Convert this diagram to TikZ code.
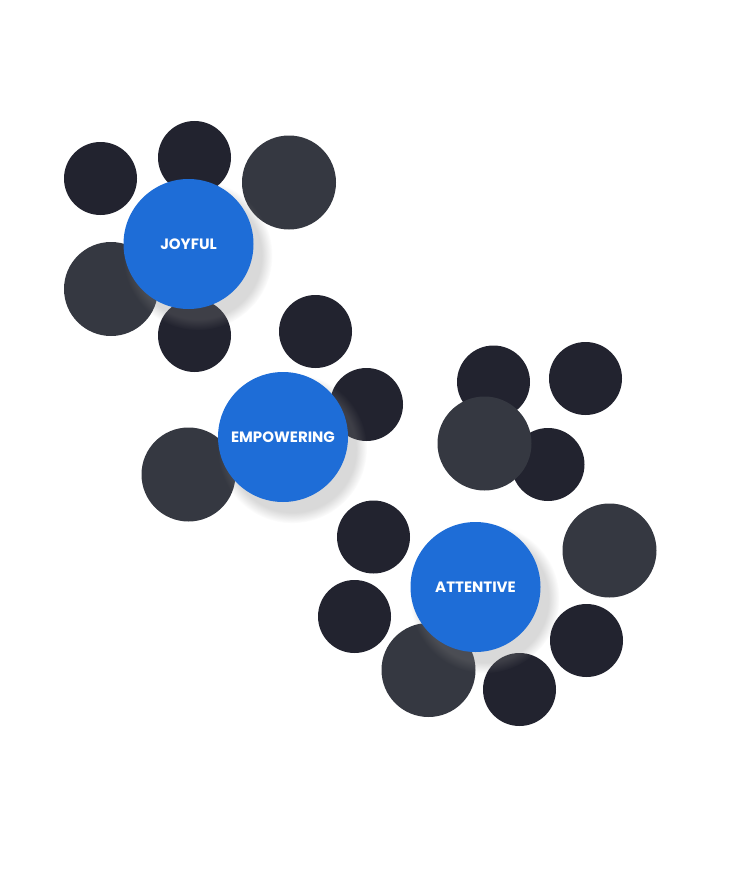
\documentclass[tikz,border=0pt]{standalone}
\usepackage{fontspec}
\setsansfont{Poppins}
\usetikzlibrary{shadows}
\definecolor{darkc}{HTML}{22232F}
\definecolor{grayc}{HTML}{353841}
\definecolor{bluec}{HTML}{1E6DD7}
\tikzset{
  dk/.style={circle,fill=darkc,minimum size=73pt,inner sep=0pt},
  gr/.style={circle,fill=grayc,minimum size=94pt,inner sep=0pt},
  bl/.style={circle,fill=bluec,minimum size=130pt,inner sep=0pt,text=white,
    font=\sffamily\bfseries\fontsize{15}{17}\selectfont,
    circular drop shadow={shadow xshift=8pt,shadow yshift=-10pt,shadow scale=1.15,opacity=0.3}},
}
\begin{document}
\begin{tikzpicture}[x=1pt,y=-1pt]
\useasboundingbox (0,0) rectangle (744,880);
% cluster 1
\node[dk] (a1) at (100.5,178.5) {};
\node[dk] (a2) at (194.5,157.5) {};
\node[gr] (a3) at (289,182.5) {};
\node[gr] (a4) at (111,289) {};
\node[dk] (a5) at (194.5,335.5) {};
\node[dk] (a6) at (315.5,331.5) {};
\node[bl] (joy) at (188.5,244) {JOYFUL};
% cluster 2
\node[dk] (b1) at (366.5,404.5) {};
\node[gr] (b2) at (188.5,474.5) {};
\node[bl] (emp) at (283,437) {EMPOWERING};
% cluster 3 top
\node[dk] (c1) at (493.5,382) {};
\node[dk] (c2) at (585.5,378.5) {};
\node[dk] (c3) at (548,464.5) {};
\node[gr] (c4) at (484.5,443.5) {};
% cluster 3
\node[dk] (d1) at (373.5,537) {};
\node[gr] (d2) at (609.5,550.5) {};
\node[dk] (d3) at (354.5,616.5) {};
\node[gr] (d4) at (428.5,670) {};
\node[dk] (d5) at (519.5,689.5) {};
\node[dk] (d6) at (586.5,640.5) {};
\node[bl] (att) at (475.5,587) {ATTENTIVE};
\end{tikzpicture}
\end{document}
